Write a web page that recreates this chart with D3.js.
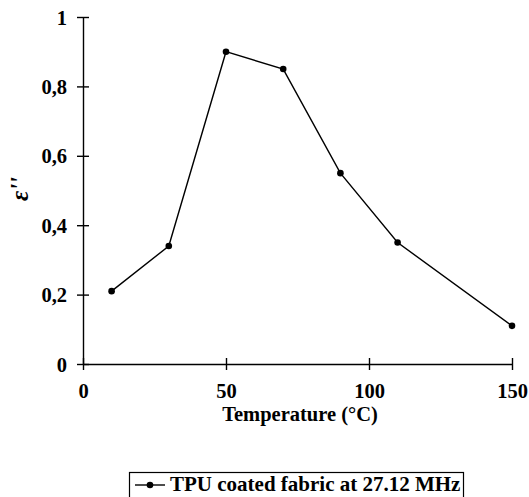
<!DOCTYPE html>
<html>
<head>
<meta charset="utf-8">
<script src="https://cdn.jsdelivr.net/npm/d3@7"></script>
<style>
  body { margin: 0; background: #fff; }
  svg { display: block; font-family: "Liberation Serif", "Times New Roman", serif; font-weight: bold; }
</style>
</head>
<body>
<div id="chart"></div>
<script>
// Data
const temperature = [10, 30, 50, 70, 90, 110, 150];
const epsilon = [0.21, 0.34, 0.90, 0.85, 0.55, 0.35, 0.11];
const xTicks = [0, 50, 100, 150];
const yTicks = [0, 0.2, 0.4, 0.6, 0.8, 1];
const yTickLabels = ["0", "0,2", "0,4", "0,6", "0,8", "1"];
const seriesName = "TPU coated fabric at 27.12 MHz";

const width = 529, height = 497;
const margins = {top: 17, right: 17, bottom: 133, left: 83};

const data = temperature.map((t, i) => ({t: t, e: epsilon[i]}));

const svg = d3.select("#chart")
    .append("svg")
    .attr("width", width)
    .attr("height", height);

const xScale = d3.scaleLinear()
    .domain([0, 150])
    .range([margins.left, width - margins.right]);
const yScale = d3.scaleLinear()
    .domain([0, 1])
    .range([height - margins.bottom, margins.top]);

// Axes, ticks cross the axis line
const xAxis = d3.axisBottom(xScale)
    .tickValues(xTicks)
    .tickSizeOuter(0);
const yAxis = d3.axisLeft(yScale)
    .tickValues(yTicks)
    .tickFormat((d, i) => yTickLabels[i])
    .tickSizeOuter(0);

const xGroup = svg.append("g")
    .attr("transform", `translate(0,${yScale(0)})`)
    .call(xAxis);
xGroup.select(".domain").attr("stroke-width", 1.4);
xGroup.selectAll(".tick line").attr("y1", -6).attr("y2", 6).attr("stroke-width", 1.4);
xGroup.selectAll(".tick text")
    .attr("y", 34)
    .attr("dy", 0)
    .style("font-size", "20.5px")
    .style("font-family", "Liberation Serif")
    .style("font-weight", "bold")
    .attr("fill", "#000");

const yGroup = svg.append("g")
    .attr("transform", `translate(${xScale(0)},0)`)
    .call(yAxis);
yGroup.select(".domain").attr("stroke-width", 1.4);
yGroup.selectAll(".tick line").attr("x1", -6).attr("x2", 6).attr("stroke-width", 1.4);
yGroup.selectAll(".tick text")
    .attr("x", -16)
    .attr("dy", "0.35em")
    .style("font-size", "20.5px")
    .style("font-family", "Liberation Serif")
    .style("font-weight", "bold")
    .attr("fill", "#000");

// Line and markers
const line = d3.line()
    .x(d => xScale(d.t))
    .y(d => yScale(d.e));

svg.append("path")
    .datum(data)
    .attr("d", line)
    .attr("fill", "none")
    .attr("stroke", "#000")
    .attr("stroke-width", 1.4);

svg.selectAll("circle.pt")
    .data(data)
    .join("circle")
    .attr("class", "pt")
    .attr("cx", d => xScale(d.t))
    .attr("cy", d => yScale(d.e))
    .attr("r", 3.3)
    .attr("fill", "#000");

// Axis titles
svg.append("text")
    .attr("x", 300)
    .attr("y", 421)
    .attr("text-anchor", "middle")
    .style("font-size", "20.5px")
    .text("Temperature (°C)");

svg.append("text")
    .attr("transform", "translate(28,189) rotate(-90)")
    .attr("text-anchor", "middle")
    .style("font-size", "25px")
    .style("font-style", "italic")
    .text("ε''");

// Legend
const legend = svg.append("g");
legend.append("rect")
    .attr("x", 129.5)
    .attr("y", 472.5)
    .attr("width", 334)
    .attr("height", 35)
    .attr("fill", "none")
    .attr("stroke", "#000")
    .attr("stroke-width", 1.2);
legend.append("line")
    .attr("x1", 135).attr("x2", 165)
    .attr("y1", 485).attr("y2", 485)
    .attr("stroke", "#000")
    .attr("stroke-width", 1.4);
legend.append("circle")
    .attr("cx", 150).attr("cy", 485).attr("r", 3.3)
    .attr("fill", "#000");
legend.append("text")
    .attr("x", 170)
    .attr("y", 491)
    .style("font-size", "21px")
    .text(seriesName);
</script>
</body>
</html>
